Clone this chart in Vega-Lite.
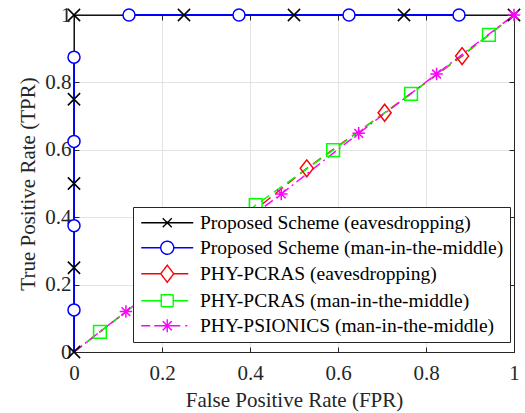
{
  "$schema": "https://vega.github.io/schema/vega-lite/v6.json",
  "width": 440,
  "height": 337,
  "autosize": {"type": "none"},
  "padding": {"left": 74, "top": 15, "right": 11, "bottom": 61},
  "background": "white",
  "config": {
    "view": {"stroke": null},
    "font": "Liberation Serif",
    "axis": {
      "labelFont": "Liberation Serif",
      "titleFont": "Liberation Serif",
      "labelFontSize": 21,
      "titleFontSize": 21,
      "labelColor": "#262626",
      "titleColor": "#262626",
      "titleFontWeight": "normal",
      "domainColor": "#262626",
      "domainWidth": 1,
      "tickColor": "#262626",
      "tickWidth": 1,
      "tickSize": -5,
      "gridColor": "#e3e3e3",
      "gridWidth": 1
    }
  },
  "data": {
    "values": [
      {"s": "Proposed Scheme (eavesdropping)", "x": 0, "y": 0, "g": 0, "m": 1},
      {"s": "Proposed Scheme (eavesdropping)", "x": 0, "y": 0.25, "g": 0, "m": 1},
      {"s": "Proposed Scheme (eavesdropping)", "x": 0, "y": 0.5, "g": 0, "m": 1},
      {"s": "Proposed Scheme (eavesdropping)", "x": 0, "y": 0.75, "g": 0, "m": 1},
      {"s": "Proposed Scheme (eavesdropping)", "x": 0, "y": 1, "g": 0, "m": 1},
      {"s": "Proposed Scheme (eavesdropping)", "x": 0.25, "y": 1, "g": 0, "m": 1},
      {"s": "Proposed Scheme (eavesdropping)", "x": 0.5, "y": 1, "g": 0, "m": 1},
      {"s": "Proposed Scheme (eavesdropping)", "x": 0.75, "y": 1, "g": 0, "m": 1},
      {"s": "Proposed Scheme (eavesdropping)", "x": 1, "y": 1, "g": 0, "m": 1},
      {"s": "Proposed Scheme (man-in-the-middle)", "x": 0, "y": 0, "g": 1, "m": 0},
      {"s": "Proposed Scheme (man-in-the-middle)", "x": 0, "y": 0.125, "g": 1, "m": 1},
      {"s": "Proposed Scheme (man-in-the-middle)", "x": 0, "y": 0.375, "g": 1, "m": 1},
      {"s": "Proposed Scheme (man-in-the-middle)", "x": 0, "y": 0.625, "g": 1, "m": 1},
      {"s": "Proposed Scheme (man-in-the-middle)", "x": 0, "y": 0.875, "g": 1, "m": 1},
      {"s": "Proposed Scheme (man-in-the-middle)", "x": 0.125, "y": 1, "g": 2, "m": 1},
      {"s": "Proposed Scheme (man-in-the-middle)", "x": 0.375, "y": 1, "g": 2, "m": 1},
      {"s": "Proposed Scheme (man-in-the-middle)", "x": 0.625, "y": 1, "g": 2, "m": 1},
      {"s": "Proposed Scheme (man-in-the-middle)", "x": 0.875, "y": 1, "g": 2, "m": 1},
      {"s": "PHY-PCRAS (eavesdropping)", "x": 0, "y": 0, "g": 0, "m": 0},
      {"s": "PHY-PCRAS (eavesdropping)", "x": 0.176, "y": 0.178, "g": 0, "m": 1},
      {"s": "PHY-PCRAS (eavesdropping)", "x": 0.353, "y": 0.36, "g": 0, "m": 1},
      {"s": "PHY-PCRAS (eavesdropping)", "x": 0.529, "y": 0.545, "g": 0, "m": 1},
      {"s": "PHY-PCRAS (eavesdropping)", "x": 0.706, "y": 0.71, "g": 0, "m": 1},
      {"s": "PHY-PCRAS (eavesdropping)", "x": 0.882, "y": 0.878, "g": 0, "m": 1},
      {"s": "PHY-PCRAS (eavesdropping)", "x": 1, "y": 1, "g": 0, "m": 0},
      {"s": "PHY-PCRAS (man-in-the-middle)", "x": 0, "y": 0, "g": 0, "m": 0},
      {"s": "PHY-PCRAS (man-in-the-middle)", "x": 0.059, "y": 0.06, "g": 0, "m": 1},
      {"s": "PHY-PCRAS (man-in-the-middle)", "x": 0.236, "y": 0.24, "g": 0, "m": 1},
      {"s": "PHY-PCRAS (man-in-the-middle)", "x": 0.413, "y": 0.436, "g": 0, "m": 1},
      {"s": "PHY-PCRAS (man-in-the-middle)", "x": 0.589, "y": 0.599, "g": 0, "m": 1},
      {"s": "PHY-PCRAS (man-in-the-middle)", "x": 0.766, "y": 0.766, "g": 0, "m": 1},
      {"s": "PHY-PCRAS (man-in-the-middle)", "x": 0.943, "y": 0.941, "g": 0, "m": 1},
      {"s": "PHY-PCRAS (man-in-the-middle)", "x": 1, "y": 1, "g": 0, "m": 0},
      {"s": "PHY-PSIONICS (man-in-the-middle)", "x": 0, "y": 0, "g": 0, "m": 0},
      {"s": "PHY-PSIONICS (man-in-the-middle)", "x": 0.118, "y": 0.12, "g": 0, "m": 1},
      {"s": "PHY-PSIONICS (man-in-the-middle)", "x": 0.294, "y": 0.295, "g": 0, "m": 1},
      {"s": "PHY-PSIONICS (man-in-the-middle)", "x": 0.471, "y": 0.469, "g": 0, "m": 1},
      {"s": "PHY-PSIONICS (man-in-the-middle)", "x": 0.647, "y": 0.649, "g": 0, "m": 1},
      {"s": "PHY-PSIONICS (man-in-the-middle)", "x": 0.824, "y": 0.825, "g": 0, "m": 1},
      {"s": "PHY-PSIONICS (man-in-the-middle)", "x": 1, "y": 1, "g": 0, "m": 1}
    ]
  },
  "layer": [
    {
      "mark": {"type": "line"},
      "encoding": {
        "x": {
          "field": "x", "type": "quantitative",
          "scale": {"domain": [0, 1], "nice": false, "zero": false},
          "axis": {"orient": "bottom", "values": [0, 0.2, 0.4, 0.6, 0.8, 1], "format": "~g", "grid": true, "title": "False Positive Rate (FPR)", "labelPadding": 15, "titlePadding": 6, "labelFlush": false}
        },
        "y": {
          "field": "y", "type": "quantitative",
          "scale": {"domain": [0, 1], "nice": false, "zero": false},
          "axis": {"orient": "left", "values": [0, 0.2, 0.4, 0.6, 0.8, 1], "format": "~g", "grid": true, "title": "True Positive Rate (TPR)", "labelPadding": 8, "titlePadding": 6, "labelFlush": false}
        },
        "stroke": {
          "field": "s", "type": "nominal",
          "scale": {
            "domain": ["Proposed Scheme (eavesdropping)", "Proposed Scheme (man-in-the-middle)", "PHY-PCRAS (eavesdropping)", "PHY-PCRAS (man-in-the-middle)", "PHY-PSIONICS (man-in-the-middle)"],
            "range": ["#000000", "#0000ff", "#ff0000", "#00ff00", "#ff00ff"]
          },
          "legend": {
            "title": null,
            "orient": "none",
            "legendX": 59,
            "legendY": 192,
            "labelFont": "Liberation Serif",
            "labelFontSize": 19.5,
            "labelColor": "#000000",
            "labelLimit": 0,
            "padding": 6,
            "rowPadding": 4,
            "symbolOffset": 18.5,
            "labelOffset": 23,
            "symbolSize": 4,
            "symbolStrokeWidth": 1.4,
            "symbolFillColor": "transparent",
            "symbolOpacity": 1,
            "strokeColor": "#262626",
            "fillColor": "#ffffff",
            "encode": {
              "symbols": {
                "update": {
                  "shape": {"signal": "['M-26,0H26M-4.5,-4.5L4.5,4.5M-4.5,4.5L4.5,-4.5','M-26,0H-6.5M6.5,0H26M6.5,0A6.5,6.5,0,1,1,-6.5,0A6.5,6.5,0,1,1,6.5,0','M-26,0H-6.5M6.5,0H21M0,-8.5L6.5,0L0,8.5L-6.5,0Z','M-26,0H-6M6,0H21M-6,-6H6V6H-6Z','M-26,0H-17M-13,0H-5M5,0H13M18,0H20M0,-6.5V6.5M-6.5,0H6.5M-4.6,-4.6L4.6,4.6M-4.6,4.6L4.6,-4.6'][datum.index]"},
                  "strokeWidth": {"value": 1.4},
                  "strokeDash": {"value": [1, 0]},
                  "fill": {"value": "transparent"},
                  "size": {"value": 4},
                  "opacity": {"value": 1}
                }
              }
            }
          }
        },
        "strokeDash": {
          "condition": [
            {"test": "datum.s === 'PHY-PCRAS (eavesdropping)' || datum.s === 'PHY-PCRAS (man-in-the-middle)'", "value": [10, 6]},
            {"test": "datum.s === 'PHY-PSIONICS (man-in-the-middle)'", "value": [10, 4, 2, 4]}
          ],
          "value": [1, 0]
        },
        "strokeWidth": {
          "condition": [
            {"test": "datum.s === 'Proposed Scheme (eavesdropping)'", "value": 1},
            {"test": "datum.s === 'Proposed Scheme (man-in-the-middle)'", "value": 1.8}
          ],
          "value": 1.4
        },
        "detail": {"field": "g", "type": "nominal"},
        "order": [{"field": "x", "type": "quantitative"}, {"field": "y", "type": "quantitative"}]
      }
    },
    {
      "transform": [{"filter": "datum.m == 1"}],
      "mark": {"type": "point", "filled": false, "opacity": 1, "strokeWidth": 1.5},
      "encoding": {
        "x": {
          "field": "x", "type": "quantitative",
          "axis": {"orient": "top", "values": [0, 0.2, 0.4, 0.6, 0.8, 1], "labels": false, "grid": false, "title": null}
        },
        "y": {
          "field": "y", "type": "quantitative",
          "axis": {"orient": "right", "values": [0, 0.2, 0.4, 0.6, 0.8, 1], "labels": false, "grid": false, "title": null}
        },
        "color": {
          "field": "s", "type": "nominal",
          "scale": {"range": ["#ff0000", "#00ff00", "#ff00ff", "#000000", "#0000ff"]},
          "legend": null
        },
        "fill": {
          "condition": {"test": "datum.s === 'Proposed Scheme (man-in-the-middle)'", "value": "#ffffff"},
          "value": "transparent"
        },
        "shape": {
          "field": "s", "type": "nominal",
          "scale": {"range": ["M0,-1.3L1,0L0,1.3L-1,0Z", "square", "M0,-1V1M-1,0H1M-0.7,-0.7L0.7,0.7M-0.7,0.7L0.7,-0.7", "M-1,-1L1,1M-1,1L1,-1", "circle"]},
          "legend": null
        },
        "size": {
          "field": "s", "type": "nominal",
          "scale": {"range": [169, 144, 169, 81, 169]},
          "legend": null
        }
      }
    }
  ],
  "resolve": {"axis": {"x": "independent", "y": "independent"}}
}
